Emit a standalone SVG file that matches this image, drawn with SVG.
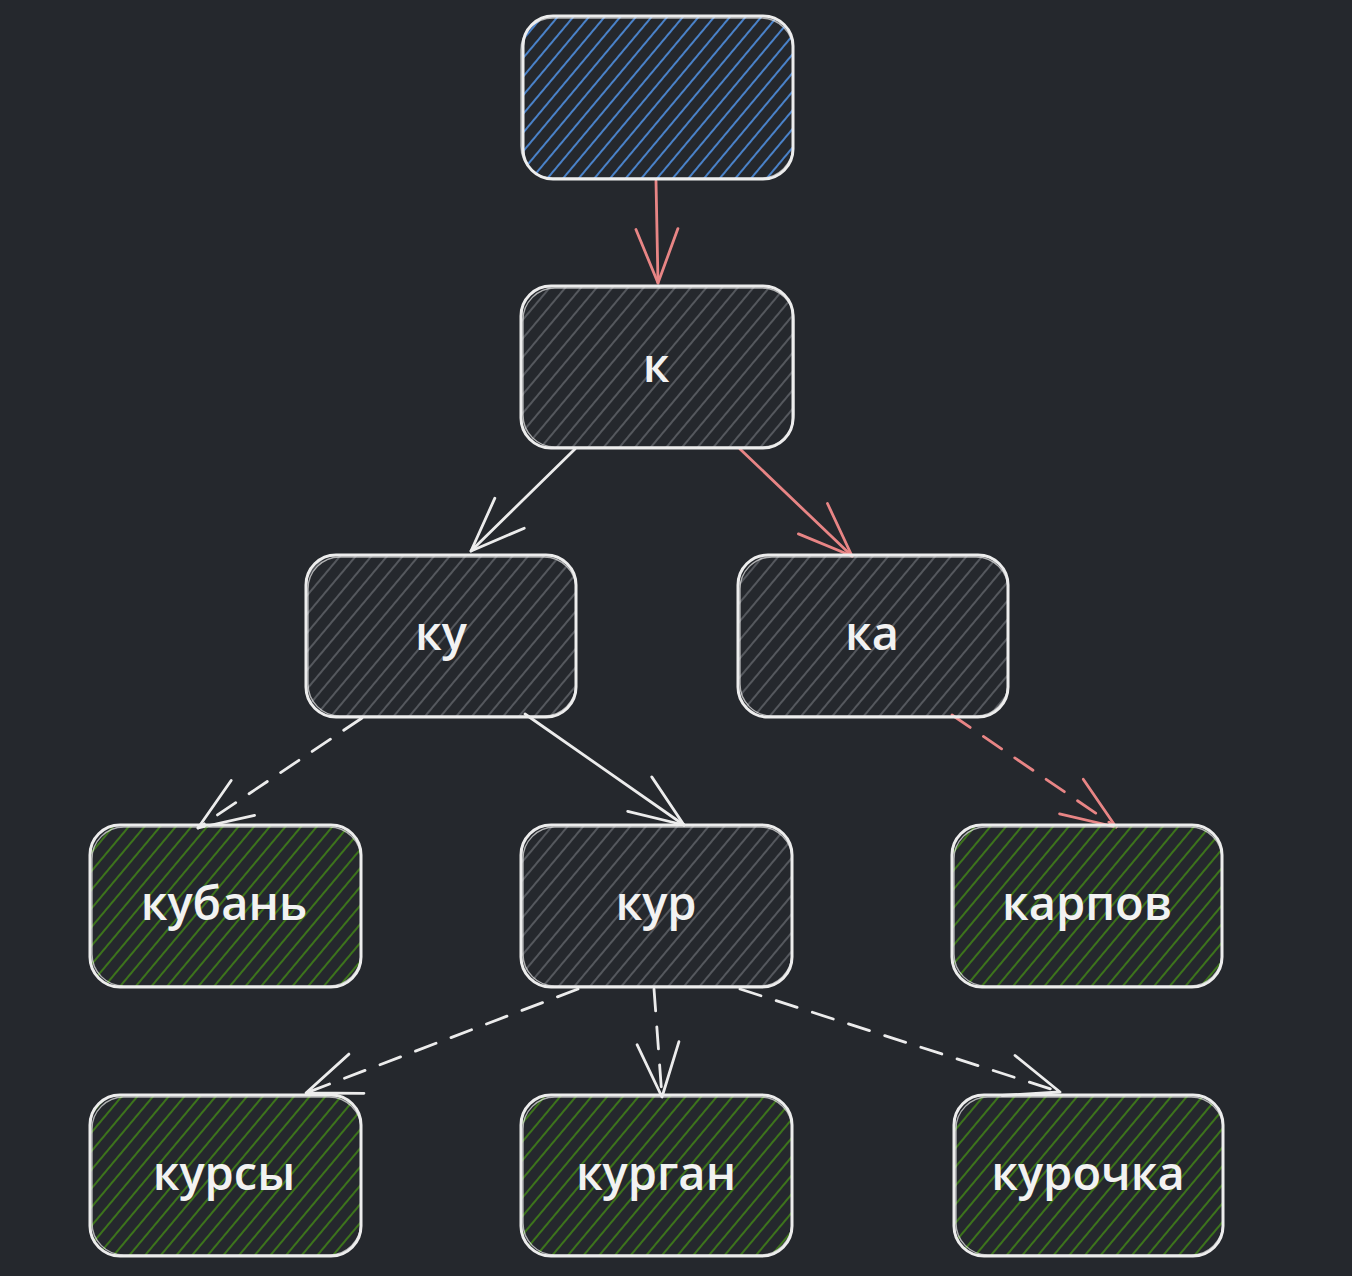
<svg xmlns="http://www.w3.org/2000/svg" width="1352" height="1276" viewBox="0 0 1352 1276">
<defs>
<pattern id="hBlue" width="12" height="12" patternUnits="userSpaceOnUse" patternTransform="rotate(40)">
<line x1="6" y1="0" x2="6" y2="12" stroke="#4a82c9" stroke-width="2"/>
</pattern>
<pattern id="hGray" width="12" height="12" patternUnits="userSpaceOnUse" patternTransform="rotate(40)">
<line x1="6" y1="0" x2="6" y2="12" stroke="#5a5d63" stroke-width="1.8"/>
</pattern>
<pattern id="hGreen" width="12" height="12" patternUnits="userSpaceOnUse" patternTransform="rotate(40)">
<line x1="6" y1="0" x2="6" y2="12" stroke="#3d741c" stroke-width="2"/>
</pattern>
<marker id="aW" markerUnits="userSpaceOnUse" markerWidth="120" markerHeight="120" refX="0" refY="0" viewBox="-60 -60 120 120" orient="auto" overflow="visible">
<path d="M -54 -21 L 0 0 L -54 21" fill="none" stroke="#ececec" stroke-width="2.8" stroke-linecap="round" stroke-linejoin="round"/>
</marker>
<marker id="aR" markerUnits="userSpaceOnUse" markerWidth="120" markerHeight="120" refX="0" refY="0" viewBox="-60 -60 120 120" orient="auto" overflow="visible">
<path d="M -54 -21 L 0 0 L -54 21" fill="none" stroke="#e88585" stroke-width="2.8" stroke-linecap="round" stroke-linejoin="round"/>
</marker>
</defs>
<style>
.box{stroke:#ededed;stroke-width:3}
.box2{fill:none;stroke:#ececec;stroke-width:1.4;opacity:0.7}
.lbl{font-family:"Open Sans","Liberation Sans",sans-serif;font-size:47px;fill:#f2f2f2;text-anchor:middle;font-weight:600}
.cw{fill:none;stroke:#ececec;stroke-width:2.8;stroke-linecap:round}
.cr{fill:none;stroke:#e88585;stroke-width:2.8;stroke-linecap:round}
.dash{stroke-dasharray:22 16}
</style>
<rect x="0" y="0" width="1352" height="1276" fill="#25282d"/>

<g id="connectors">
<path class="cr" d="M 656 181 L 658 283" marker-end="url(#aR)"/>
<path class="cw" d="M 575 449 L 471 551" marker-end="url(#aW)"/>
<path class="cr" d="M 740 449 L 852 556" marker-end="url(#aR)"/>
<path class="cw dash" d="M 362 718 L 198 828" marker-end="url(#aW)"/>
<path class="cw" d="M 525 714 L 684 825" marker-end="url(#aW)"/>
<path class="cr dash" d="M 952 715 L 1116 827" marker-end="url(#aR)"/>
<path class="cw dash" d="M 578 989 L 306 1093" marker-end="url(#aW)"/>
<path class="cw dash" d="M 654 989 L 662 1097" marker-end="url(#aW)"/>
<path class="cw dash" d="M 740 989 L 1060 1092" marker-end="url(#aW)"/>
</g>

<g id="node-root">
<rect class="box" x="523" y="16" width="270" height="163" rx="30" fill="url(#hBlue)"/>
<rect class="box2" x="521" y="18" width="272" height="160" rx="32"/>
</g>
<g id="node-k">
<rect class="box" x="521" y="286" width="272" height="162" rx="30" fill="url(#hGray)"/>
<rect class="box2" x="523" y="288" width="271" height="159" rx="32"/>
<text class="lbl" x="656" y="382">к</text>
</g>
<g id="node-ku">
<rect class="box" x="306" y="555" width="270" height="162" rx="30" fill="url(#hGray)"/>
<rect class="box2" x="308" y="557" width="268" height="159" rx="32"/>
<text class="lbl" x="441" y="650">ку</text>
</g>
<g id="node-ka">
<rect class="box" x="738" y="555" width="270" height="162" rx="30" fill="url(#hGray)"/>
<rect class="box2" x="740" y="557" width="268" height="159" rx="32"/>
<text class="lbl" x="872" y="650">ка</text>
</g>
<g id="node-kuban">
<rect class="box" x="90" y="825" width="271" height="162" rx="30" fill="url(#hGreen)"/>
<rect class="box2" x="92" y="827" width="269" height="159" rx="32"/>
<text class="lbl" x="224" y="920">кубань</text>
</g>
<g id="node-kur">
<rect class="box" x="521" y="825" width="271" height="162" rx="30" fill="url(#hGray)"/>
<rect class="box2" x="523" y="827" width="269" height="159" rx="32"/>
<text class="lbl" x="656" y="920">кур</text>
</g>
<g id="node-karpov">
<rect class="box" x="952" y="825" width="270" height="162" rx="30" fill="url(#hGreen)"/>
<rect class="box2" x="954" y="827" width="268" height="159" rx="32"/>
<text class="lbl" x="1087" y="920">карпов</text>
</g>
<g id="node-kursy">
<rect class="box" x="90" y="1095" width="271" height="161" rx="30" fill="url(#hGreen)"/>
<rect class="box2" x="92" y="1097" width="269" height="158" rx="32"/>
<text class="lbl" x="224" y="1190">курсы</text>
</g>
<g id="node-kurgan">
<rect class="box" x="521" y="1095" width="271" height="161" rx="30" fill="url(#hGreen)"/>
<rect class="box2" x="523" y="1097" width="269" height="158" rx="32"/>
<text class="lbl" x="656" y="1190">курган</text>
</g>
<g id="node-kurochka">
<rect class="box" x="954" y="1095" width="269" height="161" rx="30" fill="url(#hGreen)"/>
<rect class="box2" x="956" y="1097" width="267" height="158" rx="32"/>
<text class="lbl" x="1088" y="1190">курочка</text>
</g>
</svg>
